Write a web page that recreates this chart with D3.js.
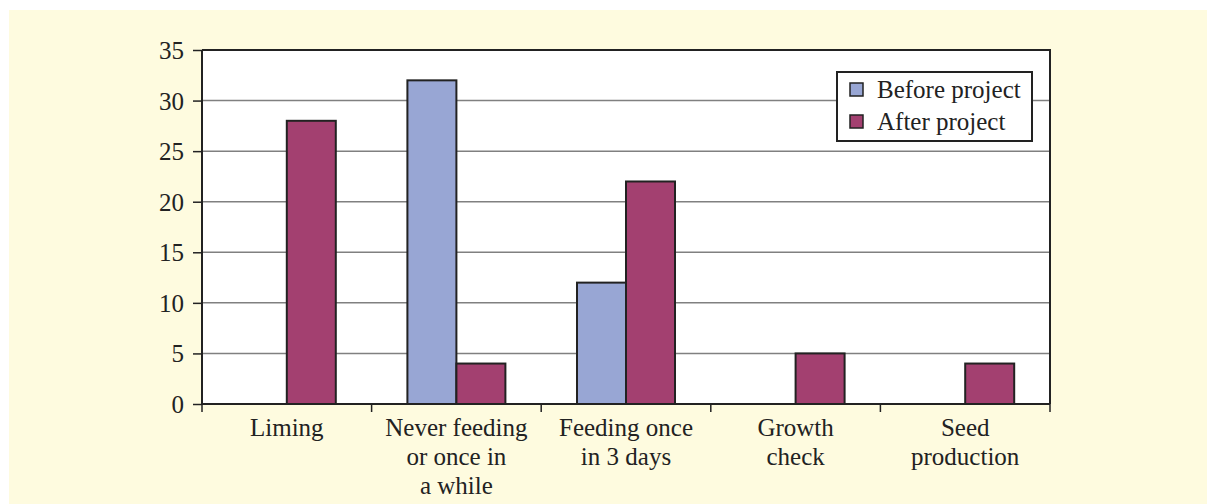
<!DOCTYPE html>
<html><head><meta charset="utf-8">
<script src="https://cdn.jsdelivr.net/npm/d3@7"></script>
<style>body{margin:0;background:#fff;} svg{display:block;}</style>
</head><body>
<script>
const categories = [["Liming"], ["Never feeding","or once in","a while"], ["Feeding once","in 3 days"], ["Growth","check"], ["Seed","production"]];
const seriesNames = ["Before project", "After project"];
const beforeValues = [0, 32, 12, 0, 0];
const afterValues = [28, 4, 22, 5, 4];
const yTicks = [0, 5, 10, 15, 20, 25, 30, 35];
const colors = ["#98a6d4", "#a34070"];

const W = 1207, H = 504;
const svg = d3.select("body").append("svg").attr("width", W).attr("height", H);
svg.append("rect").attr("x", 9).attr("y", 10).attr("width", W - 9).attr("height", H - 10).attr("fill", "#fefbdf");

const L = 202, R = 1050, T = 50, B = 404;
svg.append("rect").attr("x", L).attr("y", T).attr("width", R - L).attr("height", B - T).attr("fill", "#fff");

const y = d3.scaleLinear().domain([0, 35]).range([B, T]);
const x = d3.scaleBand().domain(d3.range(categories.length)).range([L, R]).paddingInner(0).paddingOuter(0);
const barW = 49;
const font = "'Liberation Serif','Times New Roman',serif";
const fs = 25;

// gridlines
svg.append("g").selectAll("line").data(yTicks.filter(d => d > 0 && d < 35)).join("line")
  .attr("x1", L).attr("x2", R).attr("y1", d => y(d)).attr("y2", d => y(d))
  .attr("stroke", "#808080").attr("stroke-width", 1.5);

// frame top & right
svg.append("path").attr("d", `M${L},${T}H${R}V${B}`).attr("fill", "none").attr("stroke", "#222").attr("stroke-width", 2);

// bars
const data = categories.map((c, i) => ({i, v: [beforeValues[i], afterValues[i]]}));
const g = svg.append("g");
data.forEach(d => {
  const cx = x(d.i) + x.bandwidth() / 2;
  d.v.forEach((v, s) => {
    if (v <= 0) return;
    g.append("rect")
      .attr("x", cx - barW + s * barW).attr("y", y(v))
      .attr("width", barW).attr("height", y(0) - y(v))
      .attr("fill", colors[s]).attr("stroke", "#222").attr("stroke-width", 2);
  });
});

// y axis
const yAxis = d3.axisLeft(y).tickValues(yTicks).tickSize(9).tickPadding(9);
const ya = svg.append("g").attr("transform", `translate(${L},0)`).call(yAxis);
ya.select(".domain").attr("stroke", "#222").attr("stroke-width", 2).attr("d", `M0,${T}V${B}`);
ya.selectAll(".tick line").attr("stroke", "#222").attr("stroke-width", 1.5);
ya.selectAll(".tick text").attr("font-family", font).attr("font-size", fs).attr("fill", "#222").attr("dy", "0.34em");

// x axis
const xEdges = d3.range(categories.length + 1).map(i => L + i * x.bandwidth());
svg.append("line").attr("x1", L).attr("x2", R).attr("y1", B).attr("y2", B).attr("stroke", "#222").attr("stroke-width", 2);
svg.append("g").selectAll("line").data(xEdges).join("line")
  .attr("x1", d => d).attr("x2", d => d).attr("y1", B).attr("y2", B + 8)
  .attr("stroke", "#222").attr("stroke-width", 1.5);
const xl = svg.append("g");
categories.forEach((lines, i) => {
  const t = xl.append("text").attr("x", x(i) + x.bandwidth() / 2).attr("y", 435)
    .attr("text-anchor", "middle").attr("font-family", font).attr("font-size", fs).attr("fill", "#222");
  lines.forEach((ln, k) => t.append("tspan").attr("x", x(i) + x.bandwidth() / 2).attr("y", 436 + k * 29).text(ln));
});

// legend
const lg = svg.append("g");
lg.append("rect").attr("x", 837).attr("y", 72).attr("width", 195).attr("height", 69)
  .attr("fill", "#fff").attr("stroke", "#222").attr("stroke-width", 2);
seriesNames.forEach((n, s) => {
  const yy = 90 + s * 32;
  lg.append("rect").attr("x", 850).attr("y", yy - 7).attr("width", 13).attr("height", 13)
    .attr("fill", colors[s]).attr("stroke", "#222").attr("stroke-width", 1.5);
  lg.append("text").attr("x", 877).attr("y", yy + 8).attr("font-family", font).attr("font-size", fs)
    .attr("fill", "#222").text(n);
});
</script>
</body></html>
